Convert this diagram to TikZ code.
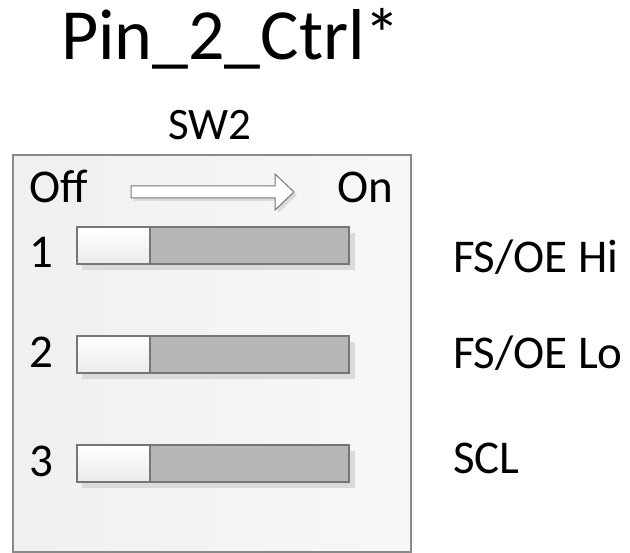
\documentclass[tikz,border=0pt]{standalone}
\usepackage{fontspec}
\setmainfont{Carlito}
\definecolor{panelline}{HTML}{8A8A8A}
\definecolor{swline}{HTML}{767676}
\definecolor{swgray}{HTML}{B6B6B6}
\definecolor{shadowgray}{HTML}{DADADA}
\tikzset{
  txt/.style={inner sep=0pt, outer sep=0pt, font=\fontsize{47}{52}\selectfont, text=black},
  title/.style={inner sep=0pt, font=\fontsize{72}{82}\selectfont, text=black},
  swtitle/.style={inner sep=0pt, font=\fontsize{45}{50}\selectfont, text=black},
  knob/.style={draw=swline, line width=1.2pt, top color=white, bottom color=white!92!black},
  track/.style={draw=swline, line width=1.2pt, fill=swgray},
  shade/.style={fill=shadowgray},
}
\begin{document}
\begin{tikzpicture}[x=1pt,y=-1pt]
\useasboundingbox (0,0) rectangle (630,553);
% title
\node[title, anchor=base] (ttl) at (231,60) {Pin\_2\_Ctrl*};
\node[swtitle, anchor=base] (sw) at (210,140) {SW2};
% panel
\draw[panelline, line width=1.2pt, left color=white!94!black, right color=white!97!black] (13,155) rectangle (411,552);
% arrow
\fill[shadowgray] (134,189) -- (278,189) -- (278,177) -- (297,195) -- (278,213) -- (278,201) -- (134,201) -- cycle;
\draw[swline, line width=1pt, fill=white] (131,186) -- (275,186) -- (275,174) -- (294,192) -- (275,210) -- (275,198) -- (131,198) -- cycle;
\node[txt, anchor=base west] (off) at (29,203) {Off};
\node[txt, anchor=base east] (on) at (393,203) {On};
% switches
\foreach \y/\n/\lab/\nb/\lb in {227/1/{FS/OE Hi}/268/273, 336/2/{FS/OE Lo}/368/369, 445/3/{SCL}/477/474}{
  \fill[shade] (82,\y+6) rectangle (355,\y+43);
  \draw[track] (150,\y) rectangle (349,\y+37);
  \draw[knob] (77,\y) rectangle (150,\y+37);
  \node[txt, anchor=base west] (num\n) at (29,\nb) {\n};
  \node[txt, anchor=base west] (lab\n) at (453,\lb) {\lab};
}
\end{tikzpicture}
\end{document}
